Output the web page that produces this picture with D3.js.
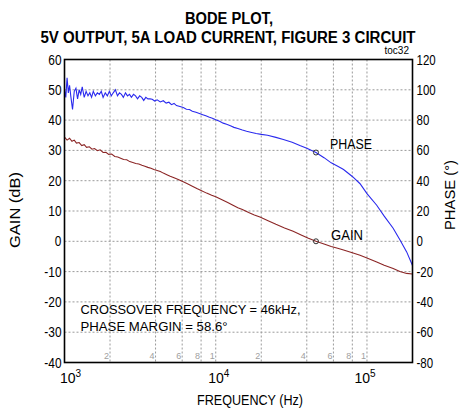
<!DOCTYPE html>
<html>
<head>
<meta charset="utf-8">
<script src="https://cdn.jsdelivr.net/npm/d3@7"></script>
<style>
  body { margin: 0; background: #fff; }
  text { font-family: "Liberation Sans", Arial, sans-serif; fill: #000; }
</style>
</head>
<body>
<script>
// gain trace (dB) vs frequency (Hz)
const gainFreq = [1000,1040,1080,1120,1160,1200,1250,1300,1350,1400,1460,1520,1580,1650,1720,1800,1880,1960,2050,2150,2250,2350,2460,2580,2700,2830,2960,3100,3250,3400,3560,3730,3900,4100,4300,4500,4750,5000,5300,5600,6000,6500,7000,7500,8000,8700,9400,10000,11000,12000,13000,14000,15000,16500,18000,19600,22000,25000,28500,32500,37000,41000,46000,52000,58000,64000,70000,80000,90000,100000,116000,130000,149000,165000,183000,200000];
const gainDb = [34.4,33.4,34.0,33.0,33.4,32.4,32.6,31.6,31.9,31.0,31.2,30.4,30.6,29.9,30.2,29.3,29.4,28.7,28.8,28.0,27.8,27.4,27.0,26.9,26.3,26.0,25.7,25.5,25.1,24.8,24.4,24.1,23.7,23.4,23.0,22.5,22.0,21.5,21.0,20.5,19.8,19.0,18.2,17.4,16.8,15.9,15.2,14.7,13.7,12.8,11.9,11.1,10.5,9.5,8.7,8.0,6.9,5.6,4.4,3.3,2.0,1.0,0.0,-0.9,-1.7,-2.3,-2.9,-3.8,-4.6,-5.5,-6.8,-7.9,-9.0,-10.0,-10.6,-10.8];

// phase trace (deg) vs frequency (Hz)
const phaseFreq = [1000,1020,1040,1060,1080,1100,1130,1160,1190,1220,1250,1280,1310,1350,1390,1430,1470,1510,1550,1600,1650,1700,1750,1800,1860,1920,1980,2040,2100,2170,2240,2310,2380,2450,2530,2610,2690,2770,2860,2950,3040,3140,3240,3340,3450,3560,3680,3800,3950,4100,4300,4500,4700,4900,5100,5300,5500,5800,6100,6400,6700,7000,7400,7800,8200,8600,9000,9500,10000,10600,11200,11800,12500,13200,14000,15000,16000,17000,18500,20000,22000,25000,28000,32000,36000,40000,46000,52000,58000,65000,70000,80000,90000,100000,116000,130000,149000,165000,183000,200000];
const phaseDeg = [100,95,108,98,103,96,87,99,101,94,100,97,102,95,99,96,98,95,99,96,98,97,99,95,98,96,99,96,98,100,96,98,97,95,98,96,97,95,97,96,94,96,95,93,95,94,94,93.8,92.6,93.4,92.0,92.8,91.2,91.8,90.2,91.0,89.6,89.0,88.3,87.2,87.0,85.8,85.2,84.4,83.6,82.8,82.0,81.2,80.2,79.2,78.0,77.2,76.2,75.2,74.4,73.4,72.6,72.0,71.2,70.6,70.0,68.6,67.2,65.4,63.2,61.4,58.6,55.2,51.8,49.2,47.4,42.8,38.0,31.5,23.8,16.6,8.6,1.0,-7.0,-16.0];

// axes
const gainTicks = [-40,-30,-20,-10,0,10,20,30,40,50,60];
const phaseTicks = [-80,-60,-40,-20,0,20,40,60,80,100,120];
const decadeTicks = [1e3, 1e4, 1e5];
const decadeExp = ["3", "4", "5"];
const minorFreqs = [2000,4000,6000,8000,10000,20000,40000,60000,80000,100000];
const minorLabels = ["2","4","6","8","1","2","4","6","8","1"];

// crossover marker
const crossFreq = 46000, crossGain = 0, crossPhase = 58.6;

const W = 461, H = 411;
const margin = { top: 59.5, left: 64.5 },
  width = 348,
  height = 303;

const svg = d3.select("body").append("svg")
  .attr("width", W).attr("height", H);

function squeeze(sel, k) {
  sel.each(function () {
    const w = this.getComputedTextLength();
    d3.select(this).attr("textLength", w * k).attr("lengthAdjust", "spacingAndGlyphs");
  });
}
function fitTo(sel, w) {
  sel.attr("textLength", w).attr("lengthAdjust", "spacingAndGlyphs");
}

const x = d3.scaleLog().domain([1e3, 2e5]).range([0, width]);
const yGain = d3.scaleLinear().domain([-40, 60]).range([height, 0]);
const yPhase = d3.scaleLinear().domain([-80, 120]).range([height, 0]);

const g = svg.append("g").attr("transform", `translate(${margin.left},${margin.top})`);

// grid
g.append("g").selectAll("line").data(gainTicks.slice(1, -1)).enter().append("line")
  .attr("x1", 0).attr("x2", width)
  .attr("y1", d => yGain(d)).attr("y2", d => yGain(d))
  .attr("stroke", "#9a9a9a").attr("stroke-width", 1).attr("stroke-dasharray", "2,2");
g.append("g").selectAll("line").data(minorFreqs).enter().append("line")
  .attr("x1", d => x(d)).attr("x2", d => x(d))
  .attr("y1", 0).attr("y2", height)
  .attr("stroke", "#9a9a9a").attr("stroke-width", 1).attr("stroke-dasharray", "2,2");

// minor labels at bottom of plot
g.append("g").selectAll("text").data(minorFreqs).enter().append("text")
  .attr("x", d => x(d) - 1).attr("y", height - 4)
  .attr("text-anchor", "end")
  .style("font-size", "9px").style("fill", "#a0a0a0")
  .text((d, i) => minorLabels[i]);

// traces
const line = d3.line().x(d => x(d[0]));
g.append("path")
  .datum(gainFreq.map((f, i) => [f, gainDb[i]]))
  .attr("d", line.y(d => yGain(d[1])))
  .attr("fill", "none").attr("stroke", "#8b2525").attr("stroke-width", 1.1);
g.append("path")
  .datum(phaseFreq.map((f, i) => [f, phaseDeg[i]]))
  .attr("d", d3.line().x(d => x(d[0])).y(d => yPhase(d[1])))
  .attr("fill", "none").attr("stroke", "#2a2aee").attr("stroke-width", 1.1);

// markers
g.append("circle").attr("cx", x(crossFreq)).attr("cy", yGain(crossGain)).attr("r", 2.5)
  .attr("fill", "none").attr("stroke", "#333").attr("stroke-width", 1);
g.append("circle").attr("cx", x(crossFreq)).attr("cy", yPhase(crossPhase)).attr("r", 2.5)
  .attr("fill", "none").attr("stroke", "#333").attr("stroke-width", 1);

// frame
g.append("rect").attr("width", width).attr("height", height)
  .attr("fill", "none").attr("stroke", "#000").attr("stroke-width", 1.6);

// left tick labels
g.append("g").selectAll("text").data(gainTicks).enter().append("text")
  .attr("x", -3).attr("y", d => yGain(d)).attr("dy", "0.36em")
  .attr("text-anchor", "end").style("font-size", "14px")
  .text(d => d)
  .call(squeeze, 0.85);

// right tick labels
g.append("g").selectAll("text").data(phaseTicks).enter().append("text")
  .attr("x", width + 4).attr("y", d => yPhase(d)).attr("dy", "0.36em")
  .attr("text-anchor", "start").style("font-size", "14px")
  .text(d => d)
  .call(squeeze, 0.82);

// decade labels 10^n
const decOffset = [6, 3, -2];
const dl = g.append("g").selectAll("text").data(decadeTicks).enter().append("text")
  .attr("x", (d, i) => x(d) + decOffset[i]).attr("y", height + 20)
  .attr("text-anchor", "middle").style("font-size", "14px");
dl.append("tspan").text("10");
dl.append("tspan").attr("dy", -6).style("font-size", "10px").text((d, i) => decadeExp[i]);

// curve labels
g.append("text").attr("x", x(crossFreq) + 14).attr("y", yPhase(crossPhase) - 4)
  .style("font-size", "14px").text("PHASE").call(fitTo, 42);
g.append("text").attr("x", x(crossFreq) + 15).attr("y", yGain(crossGain) - 1)
  .style("font-size", "14px").text("GAIN").call(fitTo, 32);

// annotation
g.append("text").attr("x", 16).attr("y", 254)
  .style("font-size", "13px").text("CROSSOVER  FREQUENCY = 46kHz,").call(fitTo, 220);
g.append("text").attr("x", 16).attr("y", 271)
  .style("font-size", "13px").text("PHASE MARGIN = 58.6°").call(fitTo, 147);

// axis titles
svg.append("text").attr("x", 250).attr("y", 405).attr("text-anchor", "middle")
  .style("font-size", "14px").text("FREQUENCY (Hz)").call(fitTo, 106);
svg.append("text").attr("transform", "translate(20,210) rotate(-90)").attr("text-anchor", "middle")
  .style("font-size", "14px").text("GAIN (dB)").call(fitTo, 76);
svg.append("text").attr("transform", "translate(455,195) rotate(-90)").attr("text-anchor", "middle")
  .style("font-size", "14px").text("PHASE (°)").call(fitTo, 70);

// title
svg.append("text").attr("x", 229).attr("y", 24).attr("text-anchor", "middle")
  .style("font-size", "16px").style("font-weight", "bold").text("BODE PLOT,").call(fitTo, 88);
svg.append("text").attr("x", 228).attr("y", 43).attr("text-anchor", "middle")
  .style("font-size", "16px").style("font-weight", "bold")
  .text("5V OUTPUT, 5A LOAD CURRENT, FIGURE 3 CIRCUIT").call(fitTo, 375);
svg.append("text").attr("x", 409).attr("y", 54).attr("text-anchor", "end")
  .style("font-size", "10px").text("toc32");
</script>
</body>
</html>
